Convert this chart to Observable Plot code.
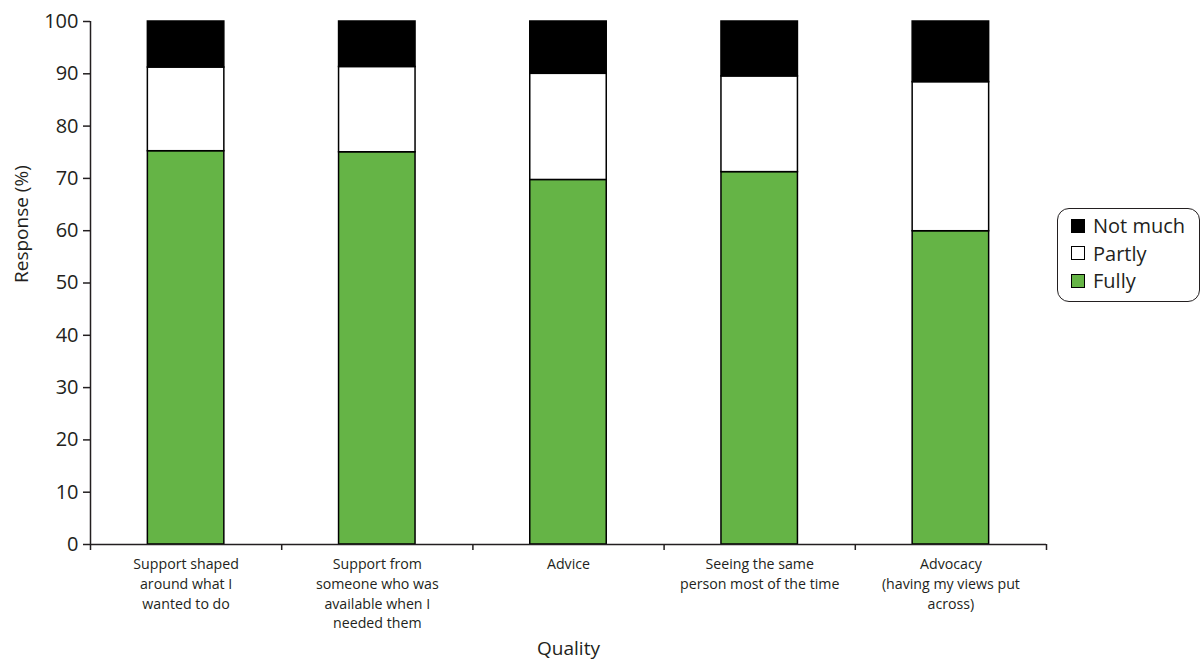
<!DOCTYPE html>
<html>
<head>
<meta charset="utf-8">
<script src="https://cdn.jsdelivr.net/npm/d3@7"></script>
<script src="https://cdn.jsdelivr.net/npm/@observablehq/plot@0.6"></script>
<style>
  body { margin: 0; background: #fff; font-family: "Open Sans", sans-serif; color: #231f20; }
  #wrap { position: relative; width: 1202px; height: 668px; overflow: hidden; }
  #legend {
    position: absolute; left: 1057px; top: 208px; width: 143px; height: 94px;
    border: 1.5px solid #231f20; border-radius: 12px; box-sizing: border-box;
    padding: 3px 0 0 13px; font-size: 20px;
  }
  #legend .item { display: flex; align-items: center; height: 27.5px; }
  #legend .sw { width: 14px; height: 14px; box-sizing: border-box; border: 1.5px solid #000; margin-right: 8px; }
</style>
</head>
<body>
<div id="wrap"></div>
<script>
// ---- data ----
const categories = [
  "Support shaped\naround what I\nwanted to do",
  "Support from\nsomeone who was\navailable when I\nneeded them",
  "Advice",
  "Seeing the same\nperson most of the time",
  "Advocacy\n(having my views put\nacross)"
];
const seriesNames = ["Fully", "Partly", "Not much"];
const seriesColors = ["#65b446", "#ffffff", "#000000"];
const fully   = [75.2, 75.0, 69.7, 71.2, 59.9];
const partly  = [16.0, 16.3, 20.3, 18.3, 28.5];
const notMuch = [8.8, 8.7, 10.0, 10.5, 11.6];
const yTicks = [0, 10, 20, 30, 40, 50, 60, 70, 80, 90, 100];

// ---- build stacked table ----
const rows = [];
categories.forEach((c, i) => {
  const vals = [fully[i], partly[i], notMuch[i]];
  let base = 0;
  vals.forEach((v, k) => {
    rows.push({i, category: c, series: seriesNames[k], y1: base, y2: base + v});
    base += v;
  });
});

const textColor = "#231f20";
const plot = Plot.plot({
  width: 1202,
  height: 668,
  marginLeft: 90,
  marginRight: 156,
  marginTop: 21,
  marginBottom: 124,
  style: {fontFamily: "'Open Sans', sans-serif", color: textColor, background: "#fff"},
  x: {domain: [0, categories.length], axis: null},
  y: {domain: [0, 100], axis: null},
  color: {domain: seriesNames, range: seriesColors},
  marks: [
    Plot.rect(rows, {
      x1: d => d.i + 0.3, x2: d => d.i + 0.7, y1: "y1", y2: "y2",
      fill: "series", stroke: "#000", strokeWidth: 1.5
    }),
    Plot.axisY({ticks: yTicks, tickSize: 7, tickPadding: 5, fontSize: 20, label: null, stroke: textColor, strokeWidth: 1.5}),
    Plot.axisX({ticks: d3.range(categories.length + 1), tickSize: 6, tickFormat: () => "", label: null, stroke: textColor, strokeWidth: 1.5}),
    Plot.axisX({
      ticks: categories.map((c, i) => i + 0.5), tickSize: 0, tickPadding: 11,
      tickFormat: t => categories[Math.floor(t)], fontSize: 14.2, lineHeight: 1.38, label: null
    }),
    Plot.ruleY([0], {stroke: textColor, strokeWidth: 1.5}),
    Plot.ruleX([0], {stroke: textColor, strokeWidth: 1.5}),
    Plot.text(["Quality"], {frameAnchor: "bottom", dy: 110, fontSize: 19, fill: textColor}),
    Plot.text(["Response (%)"], {frameAnchor: "left", dx: -69, rotate: -90, fontSize: 19, fill: textColor})
  ]
});
document.getElementById("wrap").appendChild(plot);

// ---- legend (top to bottom: Not much, Partly, Fully) ----
const legend = document.createElement("div");
legend.id = "legend";
[2, 1, 0].forEach(k => {
  const item = document.createElement("div");
  item.className = "item";
  const sw = document.createElement("span");
  sw.className = "sw";
  sw.style.background = seriesColors[k];
  const label = document.createElement("span");
  label.textContent = seriesNames[k];
  item.appendChild(sw);
  item.appendChild(label);
  legend.appendChild(item);
});
document.getElementById("wrap").appendChild(legend);
</script>
</body>
</html>
